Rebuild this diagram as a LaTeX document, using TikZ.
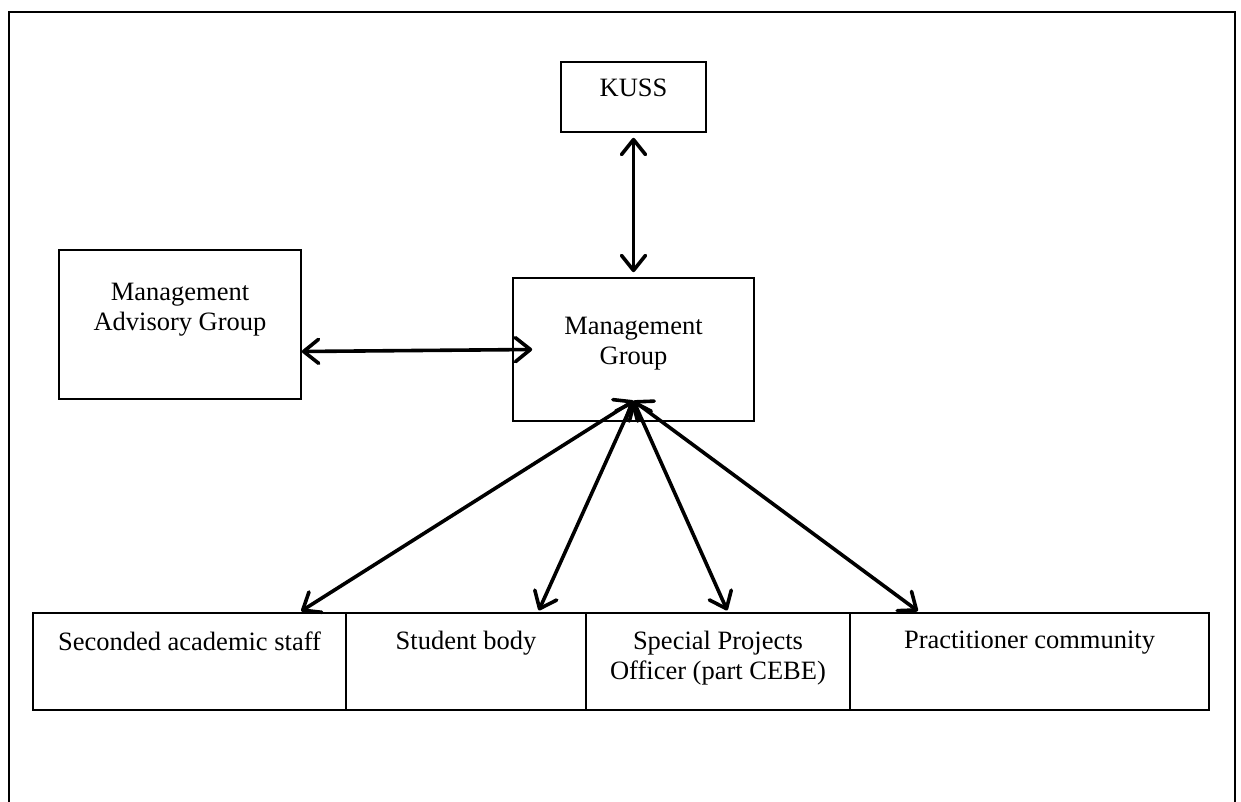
\documentclass[tikz,border=0pt]{standalone}
\usepackage{fontspec}
\setmainfont{Liberation Serif}
\usetikzlibrary{positioning,arrows.meta,calc}

\begin{document}
\begin{tikzpicture}[x=1pt,y=-1pt,>={Straight Barb[length=15pt,width=24pt,round]},
  every node/.style={font=\fontsize{26.5}{30}\selectfont},
  box/.style={draw,line width=1.6pt,inner sep=0pt},
  lbl/.style={align=center,inner sep=0pt,anchor=north},
  link/.style={<->,line width=3.6pt,line cap=round}]
\useasboundingbox (0,0) rectangle (1241,802);
\draw[line width=1.6pt] (9,802) -- (9,12) -- (1235,12) -- (1235,802);

\node[box,minimum width=145pt,minimum height=70pt] (kuss) at (633.5,97) {};
\node[box,minimum width=241pt,minimum height=143pt] (mg) at (633.5,349.5) {};
\node[box,minimum width=242pt,minimum height=149pt] (mag) at (180,324.5) {};
\node[box,minimum width=313pt,minimum height=97pt] (sec) at (189.5,661.5) {};
\node[box,minimum width=240pt,minimum height=97pt] (stu) at (466,661.5) {};
\node[box,minimum width=264pt,minimum height=97pt] (spo) at (718,661.5) {};
\node[box,minimum width=359pt,minimum height=97pt] (prac) at (1029.5,661.5) {};

\node[lbl] (kuss-t) at ([yshift=-18pt]kuss.north) {KUSS};
\node[lbl] (mg-t) at ([yshift=-40pt]mg.north) {Management\\Group};
\node[lbl] (mag-t) at ([yshift=-34pt]mag.north) {Management\\Advisory Group};
\node[lbl] (sec-t) at ([yshift=-19pt]sec.north) {Seconded academic staff};
\node[lbl] (stu-t) at ([yshift=-19pt]stu.north) {Student body};
\node[lbl] (spo-t) at ([yshift=-19pt]spo.north) {Special Projects\\Officer (part CEBE)};
\node[lbl] (prac-t) at ([yshift=-19pt]prac.north) {Practitioner community};

\coordinate (hub) at ([yshift=21pt]mg.south);
\draw[link,shorten <=5pt,shorten >=5pt] (kuss.south) -- (mg.north);
\draw[link] ([yshift=-27pt]mag.east) -- ([xshift=20pt]mg.west);
\draw[link,shorten >=2pt] (hub) -- ([xshift=110pt]sec.north);
\draw[link,shorten >=2pt] (hub) -- ([xshift=72pt]stu.north);
\draw[link,shorten >=2pt] (hub) -- ([xshift=10pt]spo.north);
\draw[link,shorten >=2pt] (hub) -- ([xshift=-110pt]prac.north);
\end{tikzpicture}
\end{document}
